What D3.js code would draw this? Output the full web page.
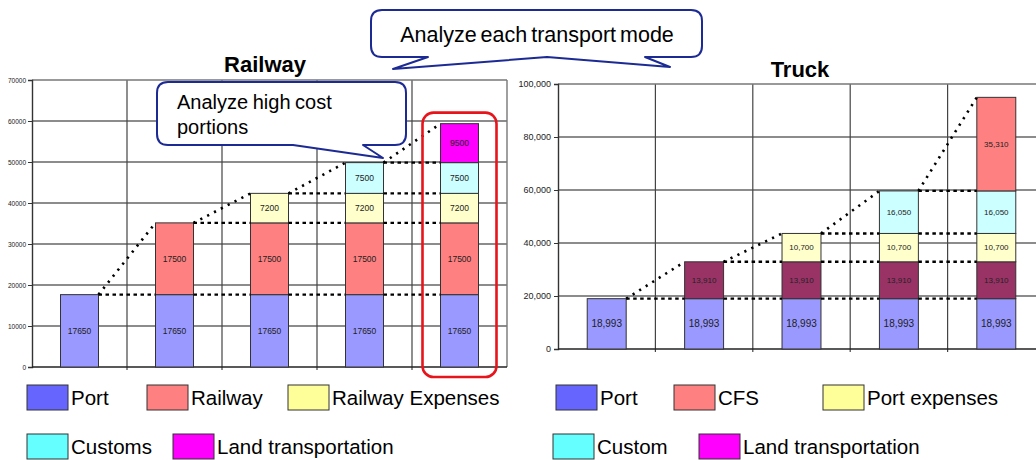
<!DOCTYPE html>
<html><head><meta charset="utf-8">
<script src="https://cdn.jsdelivr.net/npm/d3@7"></script>
<style>body{margin:0;background:#fff}svg{display:block;font-family:"Liberation Sans",Arial,sans-serif}</style>
</head><body><svg id="c" width="1036" height="460"></svg>
<script>
// ---- data ----
const categories = ["1","2","3","4","5"];
const railPort     = [17650,17650,17650,17650,17650];
const railRailway  = [0,17500,17500,17500,17500];
const railExpenses = [0,0,7200,7200,7200];
const railCustoms  = [0,0,0,7500,7500];
const railLand     = [0,0,0,0,9500];
const railTicks = [0,10000,20000,30000,40000,50000,60000,70000];
const railLegend = ["Port","Railway","Railway Expenses","Customs","Land transportation"];

const truckPort     = [18993,18993,18993,18993,18993];
const truckCFS      = [0,13910,13910,13910,13910];
const truckPortExp  = [0,0,10700,10700,10700];
const truckCustom   = [0,0,0,16050,16050];
const truckLand     = [0,0,0,0,35310];
const truckTicks = [0,20000,40000,60000,80000,100000];
const truckLegend = ["Port","CFS","Port expenses","Custom","Land transportation"];

const svg = d3.select("#c");

function drawChart(cfg){
  const g = svg.append("g");
  const x = d3.scaleBand().domain(categories).range([cfg.x0,cfg.x1]).paddingInner(0.6).paddingOuter(0.3);
  const y = d3.scaleLinear().domain([0,cfg.max]).range([cfg.y0,cfg.y1]);
  const keys = cfg.series.map((s,i)=>"s"+i);
  const rows = categories.map((c,j)=>{const o={cat:c}; cfg.series.forEach((s,i)=>o["s"+i]=s[j]); return o;});
  const stacked = d3.stack().keys(keys)(rows);
  const step = x.step();
  // horizontal grid
  g.selectAll(".hg").data(cfg.ticks.slice(1,-1)).join("line")
    .attr("x1",cfg.x0).attr("x2",cfg.x1).attr("y1",d=>y(d)).attr("y2",d=>y(d))
    .attr("stroke","#1a1a1a").attr("stroke-width",1.2);
  // vertical grid
  g.selectAll(".vg").data(categories.slice(0,-1)).join("line")
    .attr("x1",d=>x(d)+x.bandwidth()/2+step/2).attr("x2",d=>x(d)+x.bandwidth()/2+step/2)
    .attr("y1",cfg.y1).attr("y2",cfg.y0+3).attr("stroke","#444").attr("stroke-width",1.2);
  // frame top/right
  g.append("line").attr("x1",cfg.x0).attr("x2",cfg.x1).attr("y1",cfg.y1).attr("y2",cfg.y1).attr("stroke","#777").attr("stroke-width",1.6);
  g.append("line").attr("x1",cfg.x1).attr("x2",cfg.x1).attr("y1",cfg.y1).attr("y2",cfg.y0).attr("stroke","#777").attr("stroke-width",1.4);
  // axes
  const ax = d3.axisLeft(y).tickValues(cfg.ticks).tickSize(4).tickFormat(cfg.fmt);
  const ag = g.append("g").attr("transform",`translate(${cfg.x0},0)`).call(ax);
  ag.select(".domain").attr("stroke","#333").attr("stroke-width",1.4);
  ag.selectAll(".tick line").attr("stroke","#333");
  ag.selectAll(".tick text").attr("font-size",cfg.tickSize).attr("fill","#222").attr("x",-cfg.tickGap)
    .attr("font-family",'"Liberation Sans",Arial,sans-serif');
  g.append("line").attr("x1",cfg.x0).attr("x2",cfg.x1).attr("y1",cfg.y0).attr("y2",cfg.y0).attr("stroke","#222").attr("stroke-width",1.4);
  // bars
  stacked.forEach((layer,i)=>{
    layer.forEach((d,j)=>{
      if(d[1]-d[0]<=0) return;
      const c = categories[j];
      g.append("rect").attr("x",x(c)).attr("y",y(d[1])).attr("width",x.bandwidth()).attr("height",y(d[0])-y(d[1]))
        .attr("fill",cfg.colors[i]).attr("stroke","#333").attr("stroke-width",1);
      const v = d[1]-d[0];
      g.append("text").attr("x",x(c)+x.bandwidth()/2).attr("y",(y(d[0])+y(d[1]))/2)
        .attr("dy","0.35em").attr("text-anchor","middle")
        .attr("font-size", i===0 ? cfg.labelSize0 : cfg.labelSize).attr("fill","#222")
        .text(cfg.labelFmt(v));
    });
  });
  // connectors
  for(let j=0;j<categories.length-1;j++){
    const c=categories[j], n=categories[j+1];
    const levels = stacked.map(l=>l[j][1]).filter((v,i,a)=>cfg.series[i][j]>0);
    const top = d3.max(levels);
    levels.forEach(v=>{
      g.append("line").attr("x1",x(c)+x.bandwidth()).attr("x2",x(n)).attr("y1",y(v)).attr("y2",y(v))
        .attr("stroke","#000").attr("stroke-width",2.4).attr("stroke-dasharray","3.5,3.5");
    });
    const nextTop = d3.max(stacked.map(l=>l[j+1][1]));
    g.append("line").attr("x1",x(c)+x.bandwidth()).attr("x2",x(n)).attr("y1",y(top)).attr("y2",y(nextTop))
      .attr("stroke","#000").attr("stroke-width",2.6).attr("stroke-dasharray","2.2,5.5");
  }
  // title
  svg.append("text").attr("x",cfg.titleX).attr("y",cfg.titleY).attr("text-anchor","middle")
    .attr("font-size",22).attr("font-weight","bold").attr("fill","#000").text(cfg.title);
  // legend
  const lg = svg.append("g");
  cfg.legend.forEach((name,i)=>{
    const p = cfg.legendPos[i];
    lg.append("rect").attr("x",p[0]).attr("y",p[1]).attr("width",41).attr("height",25)
      .attr("fill",cfg.legendColors[i]).attr("stroke","#333").attr("stroke-width",1);
    lg.append("text").attr("x",p[0]+44).attr("y",p[1]+20).attr("font-size",20.5).attr("fill","#000").text(name);
  });
  return {x,y,stacked};
}

const rail = drawChart({
  x0:32,x1:507,y0:367,y1:80,max:70000,ticks:railTicks,fmt:d3.format("d"),tickSize:6.5,tickGap:6,
  series:[railPort,railRailway,railExpenses,railCustoms,railLand],
  colors:["#9999ff","#ff8080","#ffffcc","#ccffff","#ff00ff"],
  labelSize0:8.5,labelSize:8.5,labelFmt:d3.format("d"),
  title:"Railway",titleX:265,titleY:72,
  legend:railLegend,legendColors:["#6666ff","#ff8080","#ffff99","#66ffff","#ff00ff"],
  legendPos:[[27,385],[147,385],[288,385],[27,434],[173,434]]
});
const truck = drawChart({
  x0:558,x1:1045,y0:349,y1:84,max:100000,ticks:truckTicks,fmt:d3.format(","),tickSize:9,tickGap:7,
  series:[truckPort,truckCFS,truckPortExp,truckCustom,truckLand],
  colors:["#9999ff","#993366","#ffffcc","#ccffff","#ff8080"],
  labelSize0:10,labelSize:8,labelFmt:d3.format(","),
  title:"Truck",titleX:800,titleY:77,
  legend:truckLegend,legendColors:["#6666ff","#ff8080","#ffff99","#66ffff","#ff00ff"],
  legendPos:[[556,385],[674,385],[823,385],[553,434],[699,434]]
});

// red highlight around last railway bar
const lastCat = categories[categories.length-1];
const lastTop = d3.max(rail.stacked.map(l=>l[4][1]));
svg.append("rect").attr("x",rail.x(lastCat)-18).attr("y",rail.y(lastTop)-11)
  .attr("width",rail.x.bandwidth()+36).attr("height",377-rail.y(lastTop)+11)
  .attr("rx",11).attr("fill","none").attr("stroke","#e8141b").attr("stroke-width",2.6);

// callouts
function callout(l,t,r,b,rad,tails){
  let p = `M${l+rad},${t} H${r-rad} Q${r},${t} ${r},${t+rad} V${b-rad} Q${r},${b} ${r-rad},${b}`;
  tails.slice().reverse().forEach(pt=>{p+=` L${pt[0]},${pt[1]}`;});
  p += ` H${l+rad} Q${l},${b} ${l},${b-rad} V${t+rad} Q${l},${t} ${l+rad},${t} Z`;
  svg.append("path").attr("d",p).attr("fill","#fff").attr("stroke","#1c2a94").attr("stroke-width",2).attr("stroke-linejoin","round");
}
callout(157,82,406,145,11,[[293,145],[383,158],[363,145]]);
svg.append("text").attr("x",177).attr("y",109).attr("font-size",20).attr("word-spacing","-1").text("Analyze high cost");
svg.append("text").attr("x",177).attr("y",134).attr("font-size",20).text("portions");

callout(371,10,702,57,11,[[428,57],[393,69],[547,57],[670,67],[645,57]]);
svg.append("text").attr("x",537).attr("y",42).attr("text-anchor","middle").attr("font-size",21.5).attr("word-spacing","-2").text("Analyze each transport mode");
</script></body></html>
